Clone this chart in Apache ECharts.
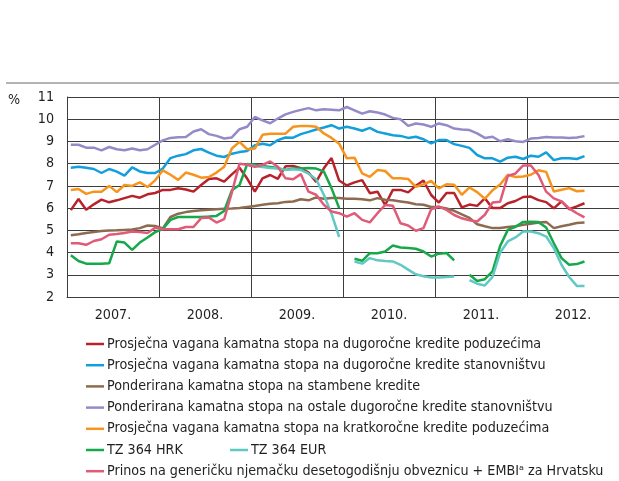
<!DOCTYPE html>
<html>
<head>
<meta charset="utf-8">
<script src="https://cdn.jsdelivr.net/npm/echarts@6/dist/echarts.min.js"></script>
<style>
  html, body { margin: 0; padding: 0; background: #fff; }
  #chart { width: 619px; height: 481px; }
</style>
</head>
<body>
<div id="chart"></div>
<script>
// monthly values, Jan 2007 .. Aug 2012 (68 months)
const years = ['2007.', '2008.', '2009.', '2010.', '2011.', '2012.'];

const dugorocnePoduzeca = [
  5.91, 6.41, 5.93, 6.17, 6.38, 6.26, 6.35, 6.45, 6.55, 6.47, 6.62, 6.68,
  6.82, 6.82, 6.89, 6.84, 6.74, 7.04, 7.31, 7.34, 7.19, 7.52, 7.82, 7.33,
  6.74, 7.34, 7.49, 7.32, 7.88, 7.9, 7.8, 7.6, 7.18, 7.79, 8.25, 7.24,
  7.02, 7.16, 7.26, 6.67, 6.74, 6.14, 6.82, 6.82, 6.71, 7.01, 7.24, 6.59,
  6.25, 6.68, 6.68, 6.03, 6.16, 6.1, 6.44, 6.0, 6.0, 6.22, 6.32, 6.5,
  6.52, 6.36, 6.27, 5.99, 6.3, 5.95, 6.08, 6.22
];
const dugorocneStanovnistvo = [
  7.82, 7.86, 7.82, 7.76, 7.58, 7.76, 7.64, 7.46, 7.83, 7.65, 7.58, 7.58,
  7.78, 8.25, 8.36, 8.43, 8.6, 8.66, 8.5, 8.36, 8.3, 8.45, 8.52, 8.57,
  8.83, 8.9, 8.83, 9.06, 9.18, 9.17, 9.33, 9.43, 9.54, 9.63, 9.73, 9.58,
  9.66, 9.58, 9.48, 9.61, 9.43, 9.36, 9.28, 9.25, 9.16, 9.21, 9.1, 8.91,
  9.06, 9.06, 8.88, 8.8, 8.71, 8.39, 8.24, 8.24, 8.09, 8.27, 8.31, 8.21,
  8.36, 8.31, 8.51, 8.16, 8.24, 8.24, 8.21, 8.34
];
const stambene = [
  4.78, 4.82, 4.88, 4.93, 4.97, 4.99, 5.0, 5.02, 5.04, 5.1, 5.22, 5.2,
  5.08, 5.6, 5.75, 5.82, 5.87, 5.9, 5.93, 5.95, 5.97, 5.98, 6.0, 6.05,
  6.1, 6.15, 6.2, 6.22, 6.28, 6.3, 6.4, 6.35, 6.48, 6.42, 6.45, 6.45,
  6.42, 6.42, 6.4, 6.35, 6.45, 6.38, 6.35, 6.3, 6.25, 6.17, 6.15, 6.05,
  6.05, 5.98, 5.88, 5.72, 5.56, 5.27, 5.18, 5.1, 5.1, 5.15, 5.18, 5.25,
  5.3, 5.35, 5.38, 5.1, 5.18, 5.25, 5.33, 5.35
];
const ostaleStanovnistvo = [
  8.85, 8.85, 8.72, 8.72, 8.6, 8.75, 8.65, 8.6, 8.68, 8.6, 8.65, 8.85,
  9.05, 9.16, 9.19, 9.2, 9.45, 9.55, 9.33, 9.25, 9.13, 9.18, 9.55, 9.66,
  10.1, 9.95, 9.82, 10.03, 10.22, 10.33, 10.42, 10.5, 10.4, 10.45, 10.43, 10.4,
  10.55, 10.4, 10.25, 10.36, 10.3, 10.21, 10.06, 10.0, 9.7, 9.81, 9.76, 9.66,
  9.81, 9.73, 9.58, 9.54, 9.51, 9.36, 9.16, 9.21, 9.01, 9.1, 9.01, 8.98,
  9.13, 9.16, 9.2, 9.18, 9.18, 9.16, 9.18, 9.24
];
const kratkorocnePoduzeca = [
  6.82, 6.86, 6.64, 6.74, 6.74, 7.0, 6.72, 7.04, 7.0, 7.16, 6.95, 7.25,
  7.7, 7.5, 7.27, 7.6, 7.5, 7.37, 7.4, 7.6, 7.86, 8.68, 8.98, 8.65,
  8.68, 9.3, 9.35, 9.35, 9.35, 9.66, 9.7, 9.7, 9.66, 9.36, 9.16, 8.9,
  8.24, 8.27, 7.56, 7.41, 7.71, 7.67, 7.34, 7.34, 7.31, 6.96, 7.07, 7.22,
  6.89, 7.07, 7.05, 6.6, 6.93, 6.72, 6.42, 6.8, 7.06, 7.5, 7.4, 7.42,
  7.5, 7.7, 7.63, 6.75, 6.83, 6.9, 6.76, 6.78
];
const tzHrk = [
  3.88, 3.62, 3.5, 3.5, 3.5, 3.52, 4.5, 4.45, 4.12, 4.45, 4.68, 4.92,
  5.06, 5.47, 5.6, 5.6, 5.6, 5.6, 5.62, 5.65, 5.87, 6.8, 7.04, 7.98,
  7.95, 7.9, 7.85, 7.8, 7.72, 7.78, 7.78, 7.8, 7.78, 7.65, 6.9, 6.0,
  null, 3.72, 3.63, 3.97, 3.97, 4.05, 4.32, 4.23, 4.2, 4.17, 4.05, 3.82,
  3.95, 3.98, 3.65, null, 3.0, 2.72, 2.8, 3.15, 4.3, 5.02, 5.16, 5.38,
  5.39, 5.37, 5.13, 4.42, 3.75, 3.45, 3.48, 3.6
];
const tzEur = [
  null, null, null, null, null, null, null, null, null, null, null, null,
  null, null, null, null, null, null, null, null, null, null, null, 7.95,
  7.9, 7.85, 7.8, 7.78, 7.72, 7.75, 7.72, 7.55, 7.3, 6.6, 5.75, 4.7,
  null, 3.6, 3.5, 3.75, 3.65, 3.62, 3.6, 3.45, 3.23, 3.02, 2.93, 2.88,
  2.88, 2.9, 2.92, null, 2.76, 2.6, 2.52, 2.9, 4.0, 4.5, 4.68, 4.95,
  4.95, 4.87, 4.72, 4.2, 3.45, 2.9, 2.5, 2.5
];
const prinosEmbi = [
  4.42, 4.42, 4.35, 4.52, 4.6, 4.8, 4.83, 4.88, 4.95, 4.92, 4.88, 5.12,
  5.05, 5.05, 5.05, 5.15, 5.15, 5.55, 5.58, 5.35, 5.5, 6.7, 8.0, 7.95,
  7.86, 7.94, 8.1, 7.86, 7.34, 7.3, 7.53, 6.74, 6.6, 6.15, 5.85, 5.77,
  5.62, 5.77, 5.47, 5.36, 5.77, 6.14, 6.11, 5.32, 5.22, 4.98, 5.1, 5.95,
  6.07, 5.92, 5.69, 5.54, 5.45, 5.4, 5.7, 6.25, 6.29, 7.45, 7.56, 7.92,
  7.92, 7.49, 6.74, 6.44, 6.3, 5.99, 5.77, 5.58
];

const seriesDefs = [
  { name: 'Prosječna vagana kamatna stopa na dugoročne kredite poduzećima', color: '#b8232b', values: dugorocnePoduzeca },
  { name: 'Prosječna vagana kamatna stopa na dugoročne kredite stanovništvu', color: '#139fdb', values: dugorocneStanovnistvo },
  { name: 'Ponderirana kamatna stopa na stambene kredite', color: '#8c6b50', values: stambene },
  { name: 'Ponderirana kamatna stopa na ostale dugoročne kredite stanovništvu', color: '#958ac8', values: ostaleStanovnistvo },
  { name: 'Prosječna vagana kamatna stopa na kratkoročne kredite poduzećima', color: '#f7941d', values: kratkorocnePoduzeca },
  { name: 'TZ 364 HRK', color: '#16a84a', values: tzHrk },
  { name: 'TZ 364 EUR', color: '#62c8c3', values: tzEur },
  { name: 'Prinos na generičku njemačku desetogodišnju obveznicu + EMBI\u1d43 za Hrvatsku', color: '#e05b78', values: prinosEmbi },
];

// pick a condensed face if one is installed, and size text so the first legend line is ~435px wide
const ctx = document.createElement('canvas').getContext('2d');
function hasFont(f) {
  ctx.font = '40px monospace';
  const base = ctx.measureText('Prosječna vagana 2007.').width;
  ctx.font = '40px "' + f + '", monospace';
  return ctx.measureText('Prosječna vagana 2007.').width !== base;
}
const face = ['Liberation Sans Narrow', 'DejaVu Sans Condensed', 'Arial Narrow', 'Liberation Sans']
  .find(hasFont) || 'Liberation Sans';
const font = '"' + face + '", "Liberation Sans", sans-serif';
ctx.font = '100px ' + font;
const fs = Math.round(435 / ctx.measureText(seriesDefs[0].name).width * 1000) / 10;

const ink = '#231f20';
const gridColor = '#3d3d3d';

// legend rows: [left, series index]
const legendRows = [
  [[81, 0]], [[81, 1]], [[81, 2]], [[81, 3]], [[81, 4]],
  [[81, 5], [225, 6]],
  [[81, 7]],
];
const legends = [];
legendRows.forEach((row, r) => {
  row.forEach(([left, idx]) => {
    legends.push({
      left: left,
      top: 340 + r * 21.2 - fs / 2 - 1,
      orient: 'horizontal',
      icon: 'rect',
      itemWidth: 18,
      itemHeight: 2.5,
      selectedMode: false,
      data: [seriesDefs[idx].name],
      textStyle: { color: ink, fontSize: fs, lineHeight: fs, fontFamily: font, padding: [0, 0, 0, -2] },
    });
  });
});

const chart = echarts.init(document.getElementById('chart'), null, { renderer: 'canvas' });
chart.setOption({
  animation: false,
  backgroundColor: '#fff',
  textStyle: { fontFamily: font },
  grid: { left: 67, top: 97, right: -1, bottom: 184 },
  legend: legends,
  graphic: [
    { type: 'line', shape: { x1: 6, y1: 83, x2: 619, y2: 83 }, style: { stroke: '#9a9a9a', lineWidth: 1.5 } },
    { type: 'text', left: 8, top: 93, style: { text: '%', fill: ink, font: fs + 'px ' + font } },
  ],
  xAxis: [
    {
      type: 'value', min: 0, max: 72, interval: 12,
      axisLine: { show: true, lineStyle: { color: gridColor, width: 1 } },
      axisTick: { show: false },
      axisLabel: { show: false },
      splitLine: { show: true, lineStyle: { color: gridColor, width: 1 } },
    },
    {
      type: 'category', data: years, position: 'bottom', boundaryGap: true,
      axisLine: { show: false }, axisTick: { show: false }, splitLine: { show: false },
      axisLabel: { color: ink, fontSize: fs, margin: 11, fontFamily: font },
    },
  ],
  yAxis: {
    type: 'value', min: 2, max: 11, interval: 1,
    axisLine: { show: true, lineStyle: { color: gridColor, width: 1 } },
    axisTick: { show: false },
    axisLabel: { color: ink, fontSize: fs, margin: 13, fontFamily: font },
    splitLine: { show: true, lineStyle: { color: gridColor, width: 1 } },
  },
  series: seriesDefs.map((s) => ({
    name: s.name,
    type: 'line',
    xAxisIndex: 0,
    showSymbol: false,
    symbol: 'none',
    color: s.color,
    lineStyle: { color: s.color, width: 2.5 },
    data: s.values.map((v, i) => [i + 0.5, v === null ? '-' : v]),
  })),
});
</script>
</body>
</html>
